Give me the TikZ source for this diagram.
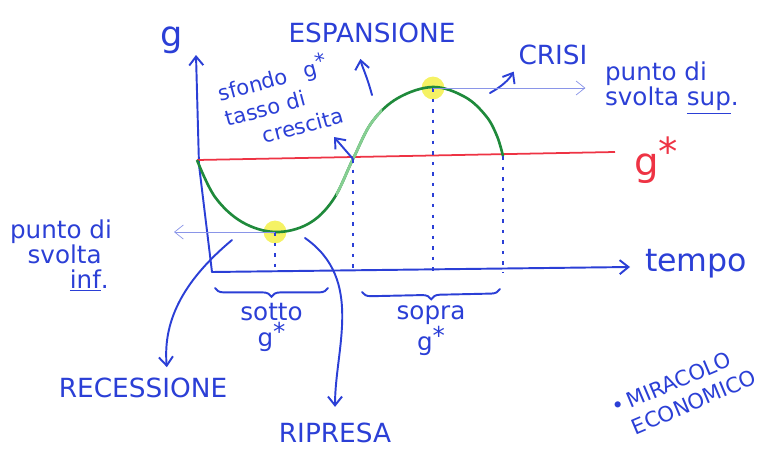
\documentclass[tikz,border=0pt]{standalone}
\usepackage{fontspec}
\setmainfont{DejaVu Sans}
\usepackage{tikz}
\usetikzlibrary{arrows.meta,positioning,decorations.pathreplacing}
\definecolor{ink}{HTML}{2B3FD6}
\definecolor{gline}{HTML}{EE3344}
\definecolor{cycle}{HTML}{1F8A3B}
\definecolor{cyclelight}{HTML}{86CF92}
\definecolor{marker}{HTML}{F2EE30}
\newcommand{\gst}{g\raisebox{.45ex}{*}}

\tikzset{
  hand/.style={text=ink, font=\fontsize{14}{15}\selectfont, inner sep=1pt},
  caps/.style={text=ink, font=\fontsize{15}{17}\selectfont, inner sep=1pt},
  inkline/.style={draw=ink, line width=1.1pt, line cap=round},
  pointer/.style={inkline, -{Straight Barb[length=5pt,width=8pt]}},
  guide/.style={draw=ink!55, thin, -{Straight Barb[length=5pt,width=8pt]}},
  dotline/.style={draw=ink, line width=1.1pt, dash pattern=on 2pt off 4pt},
  highlight/.style={circle, fill=marker, opacity=.75, minimum size=13pt, inner sep=0pt},
}

\begin{document}
\begin{tikzpicture}[x=0.02cm, y=-0.02cm]
  \useasboundingbox (0,0) rectangle (761,453);

  % axes
  \coordinate (origin) at (212,272);
  \coordinate (ytop) at (196,55);
  \coordinate (xend) at (630,267);
  \draw[pointer] (origin) -- (199,165) -- (ytop);
  \draw[pointer] (origin) -- (xend);
  \node[hand, font=\fontsize{20}{20}\selectfont] (ylab) at (172,40) {g};
  \node[hand, font=\fontsize{18}{18}\selectfont, anchor=west] (xlab) at (643,264) {tempo};

  % g* level
  \coordinate (gleft) at (197,160);
  \coordinate (gright) at (615,152);
  \draw[gline, line width=1pt] (gleft) -- (gright);
  \node[text=gline, font=\fontsize{22}{22}\selectfont, anchor=west] (gstar) at (628,160) {\gst};

  % turning points
  \node[highlight] (trough) at (275,232) {};
  \node[highlight] (peak) at (433,88) {};
  \coordinate (cross) at (353,159);
  \coordinate (fall) at (503,156);

  % the cycle
  \def\cyclepath{plot[smooth, tension=.6] coordinates {(197,160) (215,197) (242,222) (275,232) (308,224) (333,200) (353,159) (372,122) (398,98) (433,87) (465,97) (486,116) (497,136) (503,156)}}
  \draw[cycle, line width=1.5pt] \cyclepath;
  \begin{scope}
    \clip (336,105) rectangle (382,195);
    \draw[cyclelight, line width=1.5pt] \cyclepath;
  \end{scope}

  % projections on the time axis
  \draw[dotline] (trough.center) -- (trough.center |- origin);
  \draw[dotline] (cross) -- (cross |- origin);
  \draw[dotline] (peak.center) -- (peak.center |- origin);
  \draw[dotline] (fall) -- (fall |- origin);

  % labels of the phases
  \node[caps] (esp) at (372,33) {ESPANSIONE};
  \coordinate (espfoot) at (372,95);
  \draw[pointer, shorten >=8pt] (espfoot) to[out=105, in=-80] ([xshift=-8pt]esp.south);

  \node[caps] (crisi) at (553,55) {CRISI};
  \coordinate (crisfoot) at (490,93);
  \draw[pointer, shorten >=3pt] (crisfoot) to[bend right=15] (crisi.south west);

  \node[hand, rotate=15, align=left, font=\fontsize{12}{15}\selectfont] (sfondo) at (280,102) {sfondo \hspace{6pt}\gst\\tasso di\\\hspace*{18pt}crescita};
  \coordinate (sfondoend) at (334,137);
  \draw[pointer] (cross) -- (sfondoend);

  \node[hand, anchor=west, align=left] (inf) at (8,256) {punto di\\[-1pt]\hspace*{10pt}svolta\\[-1pt]\hspace*{34pt}\underline{inf}.};
  \coordinate (infend) at (174,232);
  \draw[guide] (trough.center) -- (infend);

  \node[hand, anchor=west, align=left] (sup) at (603,88) {punto di\\[-1pt]svolta \underline{sup}.};
  \draw[guide, shorten >=10pt] (peak.center) -- (sup.west);

  \node[caps] (rec) at (143,388) {RECESSIONE};
  \coordinate (recfoot) at (232,240);
  \draw[pointer, shorten >=5pt] (recfoot) to[out=220, in=95] ([xshift=14pt]rec.north);

  \node[caps] (rip) at (335,433) {RIPRESA};
  \coordinate (ripfoot) at (305,238);
  \draw[pointer, shorten >=8pt] (ripfoot) to[out=-35, in=90] (rip.north);

  % below and above g*
  \draw[inkline, decorate, decoration={brace, mirror, amplitude=5pt}] (215,288) -- (328,288)
    node[hand, midway, below=7pt, align=center] (sotto) {sotto\\\gst};
  \draw[inkline, decorate, decoration={brace, mirror, amplitude=5pt}] (362,292) -- (500,289)
    node[hand, midway, below=7pt, align=center] (sopra) {sopra\\\gst};

  \node[caps, rotate=23, align=left, font=\fontsize{12}{15}\selectfont] (miracolo) at (684,392) {\textbullet\,MIRACOLO\\\hspace*{6pt}ECONOMICO};
\end{tikzpicture}
\end{document}
